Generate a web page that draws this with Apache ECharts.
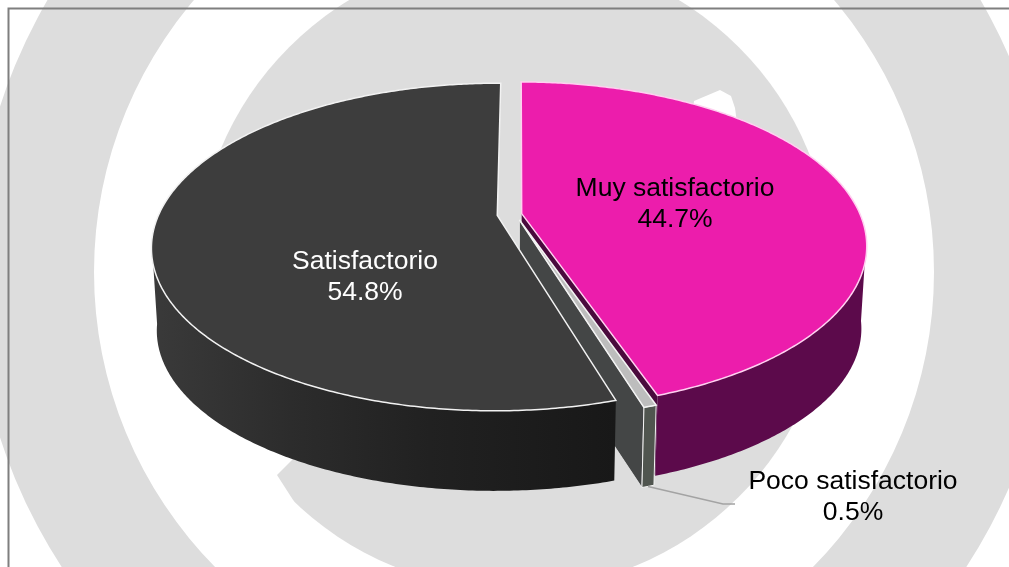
<!DOCTYPE html>
<html>
<head>
<meta charset="utf-8">
<title>Nivel de satisfacción</title>
<script src="https://cdn.jsdelivr.net/npm/echarts@6/dist/echarts.min.js"></script>
<style>html,body{margin:0;padding:0;background:#fff}#chart{width:1009px;height:567px}</style>
</head>
<body>
<div id="chart"></div>
<script>
// Chart data
const sliceNames = ['Muy satisfactorio', 'Poco satisfactorio', 'Satisfactorio'];
const sliceValues = [44.7, 0.5, 54.8];

// Colours per slice
const topColors = ['#ec1dac', '#bdbdbd', '#3d3d3d'];
const edgeColors = ['#ffd0f0', '#f4f4f4', '#f2f2f2'];
const rimColors = [
  '#5c0a4b',
  '#50554f',
  { type: 'linear', x: 0, y: 0, x2: 1, y2: 0, colorStops: [
    { offset: 0, color: '#3a3a3a' }, { offset: 0.3, color: '#2c2c2c' },
    { offset: 0.6, color: '#212121' }, { offset: 1, color: '#181818' }
  ] }
];
const cutColors = ['#4a0a3d', '#444646', '#2a2a2a'];
const labelColors = ['#000000', '#000000', '#ffffff'];

// Label anchors on the page
const labelCentres = [[675, 204], [853, 497], [365, 277]];
const LABEL_FONT = '26.5px "Liberation Sans", Arial, sans-serif';
const LEADER_KNEE = [723, 504];
const LEADER_END = [735, 504];

// Tilted-disc projection
const CX = 509.5, CY = 214.5;
const RADIUS_X = 338.5, RADIUS_Y = 157.4;
const PERSPECTIVE = 0.193;
const EXPLODE = 0.0365;
const THICKNESS = 83, BOTTOM_SCALE = 0.985;
const ROTATION = 0.3 * Math.PI / 180;
// Extra sideways shift of the thin slice, which sits close to its neighbour
const sliceNudge = [0, 0.018, 0];
// Walls are only seen on the near side of the disc
const WALL_MIN_DEPTH = 0.15;

const total = sliceValues.reduce((a, b) => a + b, 0);
const sliceAngles = [];
sliceValues.reduce((start, v) => {
  const end = start + v / total * Math.PI * 2;
  sliceAngles.push([start + ROTATION, end + ROTATION]);
  return end;
}, 0);

function project(u, v, lower) {
  const w = 1 - PERSPECTIVE * v;
  const s = lower ? BOTTOM_SCALE : 1;
  return [CX + RADIUS_X * s * u / w, CY + (lower ? THICKNESS : 0) + RADIUS_Y * s * v / w];
}
function sliceOffset(i) {
  const mid = (sliceAngles[i][0] + sliceAngles[i][1]) / 2;
  return [EXPLODE * Math.sin(mid) + sliceNudge[i], -EXPLODE * Math.cos(mid)];
}
function rimPoint(i, angle, lower) {
  const o = sliceOffset(i);
  return project(o[0] + Math.sin(angle), o[1] - Math.cos(angle), lower);
}
function apexPoint(i, lower) {
  const o = sliceOffset(i);
  return project(o[0], o[1], lower);
}
function rimAngles(i) {
  const [a, b] = sliceAngles[i];
  const steps = Math.max(4, Math.ceil((b - a) / 0.01));
  const list = [];
  for (let k = 0; k <= steps; k++) list.push(a + (b - a) * k / steps);
  return list;
}

function renderSlice(params, api) {
  const i = params.dataIndex;
  const [a, b] = sliceAngles[i];
  const children = [];
  const angles = rimAngles(i);
  const near = angles.filter(t => -Math.cos(t) > WALL_MIN_DEPTH);
  const top = angles.map(t => rimPoint(i, t, false));
  const wallTop = near.map(t => rimPoint(i, t, false));
  const wallBottom = near.map(t => rimPoint(i, t, true)).reverse();

  // Outer wall, cut walls, then the top face
  const rimZ = [4, 3, 5][i];
  const faceZ = [7, 6, 8][i];
  children.push({ type: 'polygon', z2: rimZ, shape: { points: wallTop.concat(wallBottom) },
    style: { fill: rimColors[i], stroke: i === 1 ? edgeColors[i] : null, lineWidth: 1 } });

  if (i === 0) {
    children.push({ type: 'polygon', z2: 1,
      shape: { points: [apexPoint(i, false), rimPoint(i, b, false), rimPoint(i, b, true), apexPoint(i, true)] },
      style: { fill: cutColors[i] } });
  }
  if (i === 1) {
    children.push({ type: 'polygon', z2: 2,
      shape: { points: [apexPoint(i, false), rimPoint(i, b, false), rimPoint(i, b, true), apexPoint(i, true)] },
      style: { fill: cutColors[i], stroke: '#f0f0f0', lineWidth: 0.8 } });
    const foot = rimPoint(i, (a + b) / 2, true);
    children.push({ type: 'polyline', z2: 9,
      shape: { points: [foot, LEADER_KNEE, LEADER_END] },
      style: { stroke: '#a3a3a3', lineWidth: 1.5, fill: null } });
  }

  children.push({ type: 'polygon', z2: faceZ, shape: { points: [apexPoint(i, false)].concat(top) },
    style: { fill: topColors[i], stroke: edgeColors[i], lineWidth: 1.5, lineJoin: 'miter' } });

  const [lx, ly] = labelCentres[i];
  children.push({ type: 'text', z2: 10,
    style: {
      text: sliceNames[i] + '\n' + api.value(0).toFixed(1) + '%',
      x: lx, y: ly, fill: labelColors[i], font: LABEL_FONT,
      align: 'center', verticalAlign: 'middle', lineHeight: 31
    } });
  return { type: 'group', children };
}

const WATERMARK = '#dddddd';
const chart = echarts.init(document.getElementById('chart'), null, { renderer: 'canvas' });
chart.setOption({
  backgroundColor: '#ffffff',
  animation: false,
  graphic: { elements: [
    // Pale emblem behind the chart
    { type: 'ring', z: 0, silent: true, shape: { cx: 514, cy: 272, r: 540, r0: 420 }, style: { fill: WATERMARK } },
    { type: 'circle', z: 0, silent: true, shape: { cx: 514, cy: 272, r: 318 }, style: { fill: WATERMARK } },
    { type: 'polygon', z: 1, silent: true,
      shape: { points: [[277, 475], [320, 432], [200, 250], [150, 300], [240, 470], [295, 503]] }, style: { fill: '#ffffff' } },
    { type: 'polygon', z: 1, silent: true,
      shape: { points: [[694, 101], [720, 90], [731, 96], [735, 108], [738, 130], [690, 130]] }, style: { fill: '#ffffff' } },
    // Frame, open on the right and at the bottom
    { type: 'polyline', z: 1, silent: true,
      shape: { points: [[8.5, 567], [8.5, 8.5], [1009, 8.5]] }, style: { stroke: '#7f7f7f', lineWidth: 2, fill: null } }
  ] },
  series: [{
    type: 'custom',
    coordinateSystem: 'none',
    silent: true,
    data: sliceValues.map((v, i) => ({ name: sliceNames[i], value: [v] })),
    renderItem: renderSlice
  }]
});
</script>
</body>
</html>
